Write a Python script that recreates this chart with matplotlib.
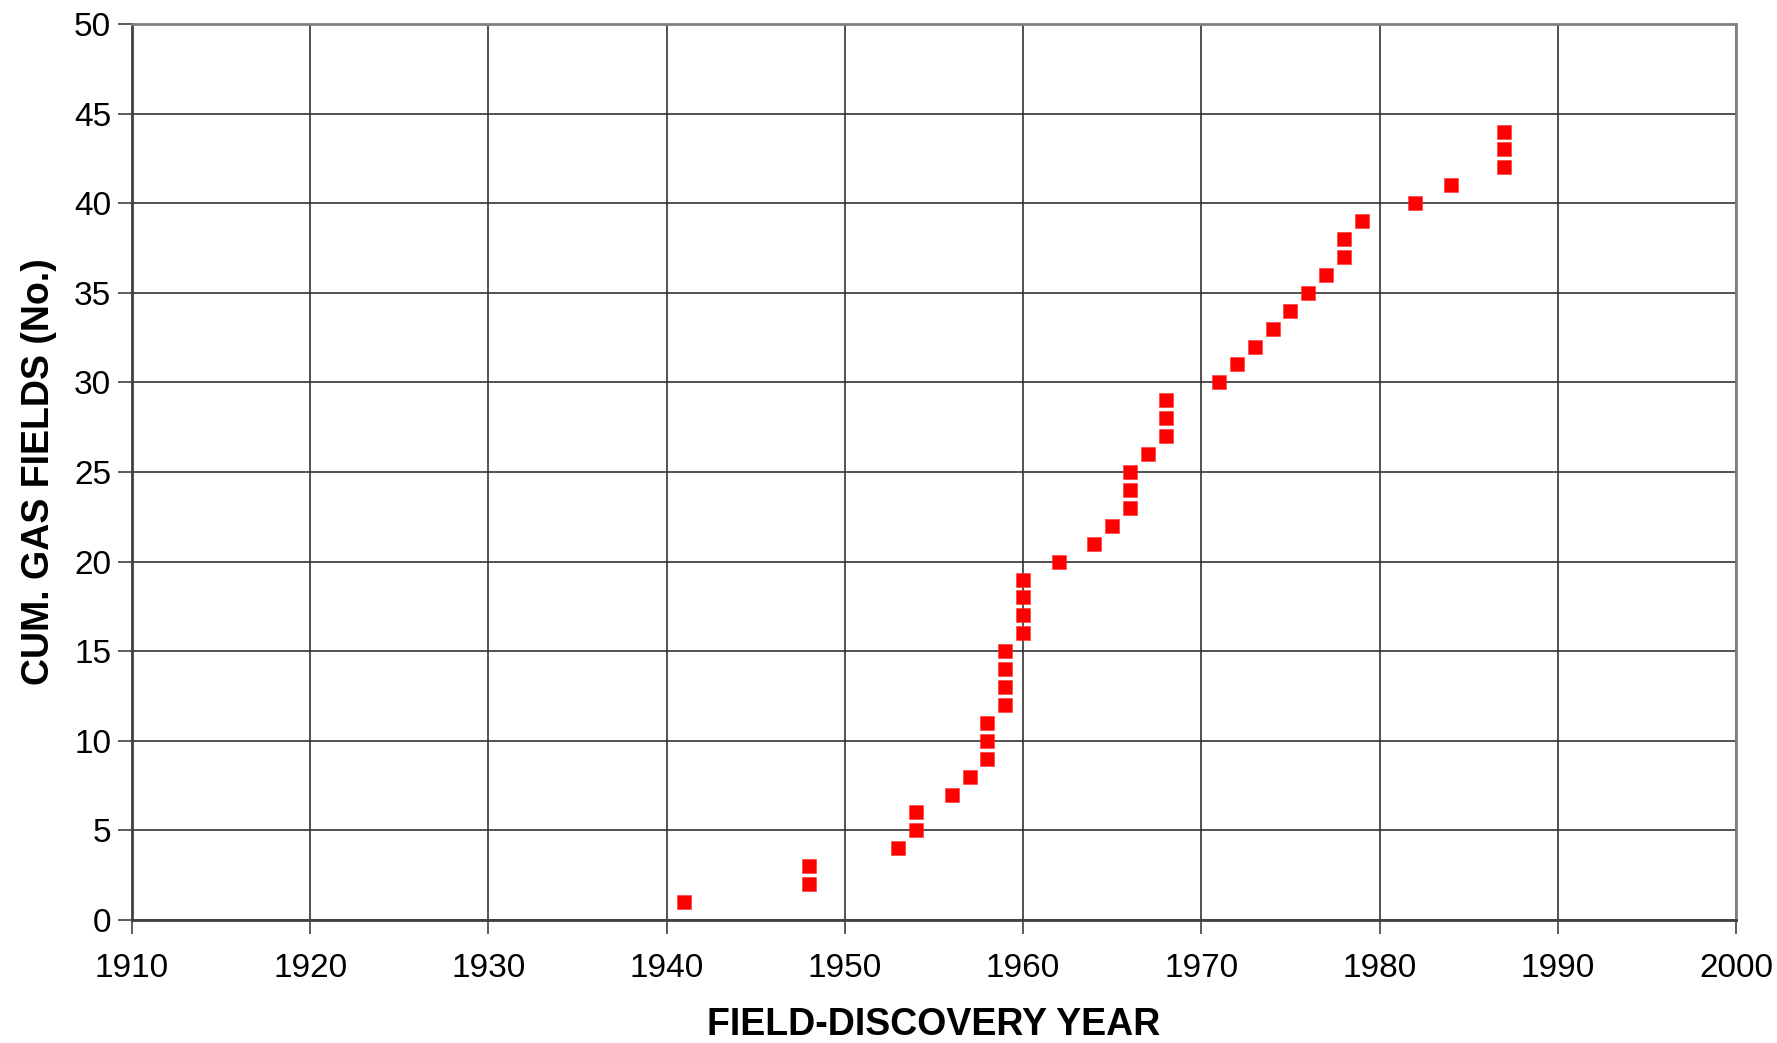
import matplotlib
matplotlib.use("Agg")
import matplotlib.pyplot as plt

# discovery year and cumulative field count
years = [1941, 1948, 1948, 1953, 1954, 1954, 1956, 1957, 1958, 1958, 1958,
         1959, 1959, 1959, 1959, 1960, 1960, 1960, 1960, 1962, 1964, 1965,
         1966, 1966, 1966, 1967, 1968, 1968, 1968, 1971, 1972, 1973, 1974,
         1975, 1976, 1977, 1978, 1978, 1979, 1982, 1984, 1987, 1987, 1987]
cum_fields = list(range(1, len(years) + 1))

x_ticks = list(range(1910, 2001, 10))
y_ticks = list(range(0, 51, 5))

plt.rcParams["font.family"] = ["Liberation Sans", "DejaVu Sans"]

fig = plt.figure(figsize=(17.77, 10.43), dpi=100)
ax = fig.add_axes([132 / 1777, 1 - 920 / 1043, (1736 - 132) / 1777, (920 - 24) / 1043])

ax.plot(years, cum_fields, linestyle="none", marker="s", markersize=10.6,
        markerfacecolor="#ff0000", markeredgecolor="#ff3030",
        markeredgewidth=0.4, zorder=3)

ax.set_xlim(1910, 2000)
ax.set_ylim(0, 50)
ax.set_xticks(x_ticks)
ax.set_yticks(y_ticks)
ax.grid(True, color="#333333", linewidth=1.2)
ax.set_axisbelow(True)
for s in ax.spines.values():
    s.set_color("#808080")
    s.set_linewidth(2)
ax.spines["left"].set_color("#404040")
ax.spines["bottom"].set_color("#404040")
ax.tick_params(axis="both", labelsize=24, length=10, width=1.2, color="#404040")
ax.tick_params(axis="x", pad=14)
ax.tick_params(axis="y", pad=5)

ax.set_xlabel("FIELD-DISCOVERY YEAR", fontsize=27, fontweight="bold", labelpad=16)
ax.set_ylabel("CUM. GAS FIELDS (No.)", fontsize=27, fontweight="bold", labelpad=12)

fig.savefig("out.png", dpi=100)
